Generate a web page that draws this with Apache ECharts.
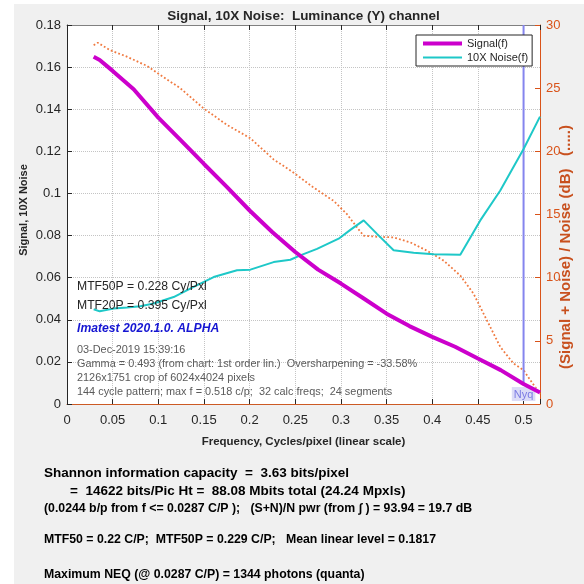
<!DOCTYPE html>
<html><head><meta charset="utf-8">
<script src="https://cdn.jsdelivr.net/npm/echarts@6/dist/echarts.min.js"></script>
<style>html,body{margin:0;padding:0;background:#fff}#c{width:584px;height:584px}</style>
</head><body><div id="c"></div>
<script>
// ---- data ----
const freqSignal = [0.0292,0.0358,0.05,0.073,0.1,0.125,0.15,0.175,0.2,0.225,0.25,0.275,0.3,0.325,0.35,0.375,0.4,0.425,0.45,0.475,0.5,0.518];
const signalValues = [0.1649,0.1634,0.1582,0.1495,0.1360,0.1251,0.1140,0.1031,0.0919,0.0816,0.0722,0.0638,0.0572,0.0501,0.0429,0.0370,0.0319,0.0272,0.0216,0.0161,0.0095,0.0055];
const freqNoise = [0.0292,0.0358,0.0511,0.0657,0.0803,0.0949,0.1168,0.1387,0.1606,0.1862,0.2008,0.2263,0.2446,0.2555,0.2738,0.2975,0.3103,0.3249,0.3395,0.3577,0.3796,0.4015,0.4307,0.4526,0.4745,0.5,0.518];
const noiseValues = [0.0450,0.0440,0.0453,0.0458,0.0464,0.0477,0.0508,0.0556,0.0603,0.0635,0.0638,0.0674,0.0685,0.0706,0.0737,0.0785,0.0827,0.0872,0.0808,0.0730,0.0718,0.0711,0.0709,0.0872,0.1014,0.1211,0.1365];
const freqSNR = [0.0292,0.0336,0.0474,0.0654,0.0876,0.102,0.124,0.1496,0.175,0.2007,0.2263,0.2482,0.27,0.292,0.3066,0.3176,0.3249,0.3395,0.3577,0.376,0.3942,0.4125,0.4307,0.4453,0.4599,0.4745,0.4891,0.5,0.5074,0.518];
const snrDb = [28.4,28.6,28.0,27.5,26.76,26.05,25.0,23.4,22.1,21.04,19.36,18.31,17.13,16.08,15.03,13.98,13.32,13.24,13.19,12.79,12.14,11.35,10.17,8.72,6.62,4.52,3.2,2.68,1.89,0.8];
const nyquistFreq = 0.5;
const xTickLabels = ['0','0.05','0.1','0.15','0.2','0.25','0.3','0.35','0.4','0.45','0.5'];
const leftTickLabels = ['0','0.02','0.04','0.06','0.08','0.1','0.12','0.14','0.16','0.18'];
const rightTickLabels = ['0','5','10','15','20','25','30'];
const seriesNames = ['Signal(f)','10X Noise(f)'];

const F = 'Liberation Sans, Arial, sans-serif';
const zip = (a,b) => a.map((v,i)=>[v,b[i]]);
const nyqSignal = signalValues[freqSignal.indexOf(nyquistFreq)];

const chart = echarts.init(document.getElementById('c'), null, {renderer:'canvas'});
const gridLine = {show:true, lineStyle:{color:'#c4c4c4', type:'dotted', width:1}};
const txt = (x,y,text,font,fill) => ({type:'text', x, y, z:100, style:{text, font, fill, align:'left', verticalAlign:'middle'}});
const ctxt = (x,y,text,font,fill,rot) => ({type:'text', x, y, z:100, rotation:rot||0, style:{text, font, fill, align:'center', verticalAlign:'middle'}});

chart.setOption({
  backgroundColor:'#f0f0f0',
  animation:false,
  grid:{left:67, right:44, top:25, bottom:180, show:true, backgroundColor:'#ffffff', borderWidth:0},
  legend:{
    data:[{name:seriesNames[0], lineStyle:{width:4}}, {name:seriesNames[1], lineStyle:{width:2}}],
    orient:'vertical', left:416, top:35,
    itemWidth:39, itemHeight:12, itemGap:3, padding:[3,4,3,5],
    backgroundColor:'#ffffff', borderColor:'#262626', borderWidth:1, borderRadius:0,
    itemStyle:{opacity:0},
    textStyle:{fontFamily:F, fontSize:11, color:'#262626'}
  },
  xAxis:[{
    type:'value', min:0, max:0.518, interval:0.05, position:'bottom',
    axisLine:{show:true, onZero:false, lineStyle:{color:'#cc5a24', width:1}},
    axisTick:{show:true, inside:true, length:5, lineStyle:{color:'#262626'}},
    axisLabel:{fontFamily:F, fontSize:13, color:'#262626', margin:10,
      formatter:v=>{const k=Math.round(v/0.05); return Math.abs(v-k*0.05)<1e-6 ? (xTickLabels[k]||'') : '';}},
    splitLine:gridLine,
    name:'Frequency, Cycles/pixel (linear scale)', nameLocation:'middle', nameGap:32,
    nameTextStyle:{fontFamily:F, fontSize:11.5, fontWeight:'bold', color:'#262626'}
  },{
    type:'value', min:0, max:0.518, interval:0.05, position:'top',
    axisLine:{show:true, onZero:false, lineStyle:{color:'#808080', width:1}},
    axisTick:{show:true, inside:true, length:5, lineStyle:{color:'#262626'}},
    axisLabel:{show:false}, splitLine:{show:false}
  }],
  yAxis:[{
    type:'value', min:0, max:0.18, interval:0.02, position:'left',
    axisLine:{show:true, onZero:false, lineStyle:{color:'#262626', width:1}},
    axisTick:{show:true, inside:true, length:5, lineStyle:{color:'#262626'}},
    axisLabel:{fontFamily:F, fontSize:13, color:'#262626', margin:6,
      formatter:v=>{const k=Math.round(v/0.02); return leftTickLabels[k]||'';}},
    splitLine:gridLine
  },{
    type:'value', min:0, max:30, interval:5, position:'right',
    axisLine:{show:true, onZero:false, lineStyle:{color:'#d95319', width:1}},
    axisTick:{show:true, inside:true, length:5, lineStyle:{color:'#d95319'}},
    axisLabel:{fontFamily:F, fontSize:13, color:'#d95319', margin:6,
      formatter:v=>{const k=Math.round(v/5); return rightTickLabels[k]||'';}},
    splitLine:{show:false}
  }],
  series:[
    {name:'SNR', type:'line', yAxisIndex:1, data:zip(freqSNR, snrDb), showSymbol:false, symbol:'none', z:2,
     lineStyle:{color:'#f07a40', width:1.8, type:[1.8,2.2]}, silent:true},
    {name:'Nyq', type:'line', data:[[nyquistFreq,0.18],[nyquistFreq,nyqSignal]], z:3,
     symbol:'none', showSymbol:false,
     lineStyle:{color:'#8585ee', width:2},
     markPoint:{symbol:'rect', symbolSize:0.1, itemStyle:{color:'rgba(0,0,0,0)'},
       data:[{coord:[nyquistFreq,nyqSignal], label:{show:true, formatter:'Nyq', position:'bottom', distance:3,
         backgroundColor:'#dcdcf7', color:'#7b7be3', fontFamily:F, fontSize:11, padding:[2,2,1,2]}}]}},
    {name:seriesNames[1], type:'line', data:zip(freqNoise, noiseValues), showSymbol:false, symbol:'none', z:4,
     lineStyle:{color:'#1ec8c8', width:2}, itemStyle:{color:'#1ec8c8'}},
    {name:seriesNames[0], type:'line', data:zip(freqSignal, signalValues), showSymbol:false, symbol:'none', z:5,
     lineStyle:{color:'#cc00cc', width:4}, itemStyle:{color:'#cc00cc'}}
  ],
  graphic:[
    {type:'rect', shape:{x:0,y:0,width:14,height:584}, style:{fill:'#ffffff'}, z:-1, silent:true},
    {type:'rect', shape:{x:0,y:0,width:584,height:4}, style:{fill:'#ffffff'}, z:-1, silent:true},
    ctxt(303.5, 16, 'Signal, 10X Noise:  Luminance (Y) channel', 'bold 13.5px '+F, '#262626'),
    ctxt(23.5, 210, 'Signal, 10X Noise', 'bold 11px '+F, '#262626', Math.PI/2),
    ctxt(566, 247, '(Signal + Noise) / Noise (dB)   (.....)', 'bold 15px '+F, '#c8501e', Math.PI/2),
    txt(77, 287, 'MTF50P = 0.228 Cy/Pxl', '12.2px '+F, '#262626'),
    txt(77, 306, 'MTF20P = 0.395 Cy/Pxl', '12.2px '+F, '#262626'),
    txt(77, 328.5, 'Imatest 2020.1.0. ALPHA', 'italic bold 12.2px '+F, '#1616d2'),
    txt(77, 350, '03-Dec-2019 15:39:16', '10.9px '+F, '#5a5a5a'),
    txt(77, 363.5, 'Gamma = 0.493 (from chart: 1st order lin.)  Oversharpening = -33.58%', '10.9px '+F, '#5a5a5a'),
    txt(77, 377.5, '2126x1751 crop of 6024x4024 pixels', '10.9px '+F, '#5a5a5a'),
    txt(77, 391.5, '144 cycle pattern; max f = 0.518 c/p;  32 calc freqs;  24 segments', '10.9px '+F, '#5a5a5a'),
    txt(44, 473.5, 'Shannon information capacity  =  3.63 bits/pixel', 'bold 13.5px '+F, '#000000'),
    txt(70, 491, '=  14622 bits/Pic Ht =  88.08 Mbits total (24.24 Mpxls)', 'bold 13.5px '+F, '#000000'),
    txt(44, 508.5, '(0.0244 b/p from f <= 0.0287 C/P );   (S+N)/N pwr (from \u222B ) = 93.94 = 19.7 dB', 'bold 12.3px '+F, '#000000'),
    txt(44, 540, 'MTF50 = 0.22 C/P;  MTF50P = 0.229 C/P;   Mean linear level = 0.1817', 'bold 12.3px '+F, '#000000'),
    txt(44, 575, 'Maximum NEQ (@ 0.0287 C/P) = 1344 photons (quanta)', 'bold 12.3px '+F, '#000000')
  ]
});
</script></body></html>
